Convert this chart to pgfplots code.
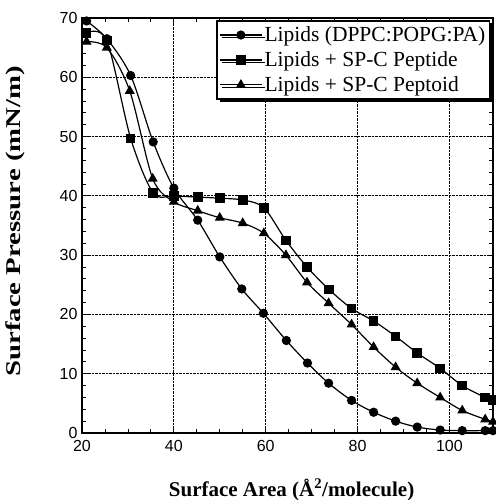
\documentclass[border=0pt]{standalone}
\usepackage{pgfplots}
\pgfplotsset{compat=1.18}
\usepackage{graphicx}
\usepackage{fontspec}
\setmainfont{Liberation Serif}
\newfontfamily\arial{Liberation Sans}
\usetikzlibrary{shadows}
\begin{document}
\begin{tikzpicture}
\begin{axis}[
 name=ax,
 scale only axis, width=411pt, height=415pt,
 xmin=20, xmax=109.5, ymin=0, ymax=70,
 xtick={20,40,...,100}, ytick={0,10,...,70},
 minor x tick num=3, minor y tick num=4,
 tick align=inside, major tick length=6pt, minor tick length=4pt,
 grid=major, major grid style={densely dotted, black, line width=1pt},
 axis line style={line width=1.3pt},
 tick style={black, line width=0.8pt},
 ticklabel style={font=\arial\fontsize{16}{16}\selectfont},
 xticklabel style={yshift=-4pt},
 yticklabel style={xshift=-1pt},
 /pgf/number format/assume math mode=true,
 xlabel={\bfseries Surface Area (Å\textsuperscript{2}/molecule)},
 ylabel={\bfseries\scalebox{1.37}[1]{Surface Pressure (mN/m)}},
 label style={font=\fontsize{21}{21}\selectfont},
 xlabel style={at={(axis description cs:0.51,-0.137)}, anchor=center},
 ylabel style={at={(axis description cs:-0.163,0.51)}, anchor=center},
 legend style={at={(0.993,0.995)}, anchor=north east, draw=black, fill=white, line width=1.5pt,
   font=\fontsize{21.5}{22}\selectfont, inner xsep=2pt, inner ysep=4pt, row sep=4.5pt,
   drop shadow={shadow xshift=2.5pt, shadow yshift=-2.5pt, fill=black, opacity=1}},
 legend cell align=left,
 legend image code/.code={\draw[mark repeat=2,mark phase=2] plot coordinates {(0cm,0cm) (0.74cm,0cm) (1.48cm,0cm)};},
]
\addplot[black, line width=1.2pt, smooth, mark=*, mark size=4pt, mark options={fill=black, solid}] coordinates {
(21,69.5) (25.4,66.5) (30.6,60.3) (35.5,49.1) (40,41.3) (45.2,35.9) (50,29.7) (54.8,24.3) (59.5,20.2) (64.5,15.6) (69.1,11.8) (73.7,8.4) (78.7,5.5) (83.5,3.5) (88.3,2.0) (93,1.0) (98,0.5) (102.8,0.4) (107.8,0.4) (109.5,0.4)};
\addlegendentry{Lipids (DPPC:POPG:PA)}
\addplot[black, line width=1.2pt, smooth, mark=square*, mark size=4.2pt, mark options={fill=black, solid}] coordinates {
(21,67.5) (25.4,66.2) (30.6,49.7) (35.5,40.5) (40,40.0) (45.2,39.8) (50,39.6) (55,39.3) (59.6,38.0) (64.4,32.5) (69,28.0) (73.8,24.2) (78.7,21.0) (83.5,18.9) (88.3,16.3) (93,13.5) (98,10.9) (102.8,8.0) (107.8,6.0) (109.5,5.6)};
\addlegendentry{Lipids + SP-C Peptide}
\addplot[black, line width=1.2pt, smooth, mark=triangle*, mark size=4.6pt, mark options={fill=black, solid}] coordinates {
(21,66) (25.4,65) (30.4,57.7) (35.4,42.9) (40,39.0) (45.2,37.5) (50,36.3) (55,35.4) (59.6,33.7) (64.4,30.0) (69,25.4) (73.7,21.9) (78.7,18.3) (83.5,14.5) (88.3,11.1) (93,8.4) (98,6.0) (102.8,3.8) (107.8,2.3) (109.5,1.9)};
\addlegendentry{Lipids + SP-C Peptoid}
\end{axis}
\pgfresetboundingbox
\path[use as bounding box] (ax.south west) ++(-82pt,-67pt) rectangle ([shift={(2pt,18pt)}]ax.north east);
\end{tikzpicture}
\end{document}
